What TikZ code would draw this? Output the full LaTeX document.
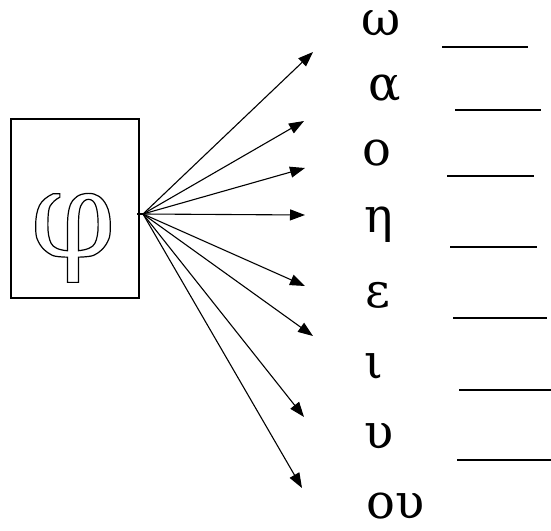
\documentclass[tikz,border=0pt]{standalone}
\usepackage{fontspec}
\setmainfont{DejaVu Serif}
\usetikzlibrary{arrows.meta}
\newcommand{\hollowtext}[1]{\special{pdf:literal direct 1 Tr 1.2 w}#1\special{pdf:literal direct 0 Tr}}
\begin{document}
\begin{tikzpicture}[x=1pt,y=-1pt,
  letter/.style={font=\fontsize{48}{54}\selectfont, inner sep=0pt, anchor=base, text height=28pt, text depth=6pt},
  blank/.style={line width=1.5pt},
  ray/.style={line width=1.1pt, -{Triangle[length=15pt,width=11pt]}},
  frame/.style={draw, line width=1.2pt, minimum width=128pt, minimum height=179pt, inner sep=0pt}]
\useasboundingbox (0,0) rectangle (551,530);
% box with hollow phi
\node[frame] (box) at (75,208.5) {};
\node[inner sep=0pt, anchor=base, font=\fontsize{122}{130}\selectfont, text height=70pt, text depth=30pt] (phi) at (73,257)
  {\hollowtext{φ}};
% origin of rays
\coordinate (o) at (143,214);
\coordinate (ob) at (137,214);
\draw[line width=1.1pt] (ob) -- (o);
% targets
\coordinate (t1) at (313,52);
\coordinate (t2) at (304,121);
\coordinate (t3) at (305,168);
\coordinate (t4) at (305,215);
\coordinate (t5) at (305,286);
\coordinate (t6) at (313,336);
\coordinate (t7) at (304,417);
\coordinate (t8) at (302,488);
\foreach \i in {1,...,8} \draw[ray] (o) -- (t\i);
% letters
\node[letter] (l1) at (381,35) {ω};
\node[letter] (l2) at (385,100) {α};
\node[letter] (l3) at (377,165) {ο};
\node[letter] (l4) at (379,232) {η};
\node[letter] (l5) at (378,307) {ε};
\node[letter] (l6) at (374,378) {ι};
\node[letter] (l7) at (379,448) {υ};
\node[letter, text depth=0pt] (l8) at (396,518) {ου};
% answer blanks
\coordinate (b1a) at (442,47);  \coordinate (b1b) at (528,47);
\coordinate (b2a) at (455,110); \coordinate (b2b) at (541,110);
\coordinate (b3a) at (447,176); \coordinate (b3b) at (534,176);
\coordinate (b4a) at (450,247); \coordinate (b4b) at (537,247);
\coordinate (b5a) at (453,318); \coordinate (b5b) at (547,318);
\coordinate (b6a) at (459,390); \coordinate (b6b) at (551,390);
\coordinate (b7a) at (457,460); \coordinate (b7b) at (551,460);
\foreach \i in {1,...,7} \draw[blank] (b\i a) -- (b\i b);
\end{tikzpicture}
\end{document}
